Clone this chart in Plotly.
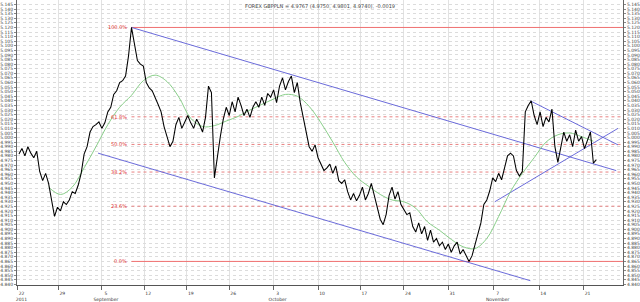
import plotly.graph_objects as go

# price series (bar index = position in list)
price = [4.982, 4.988, 4.980, 4.990, 4.983, 4.978, 4.985, 4.963, 4.953, 4.961,
         4.950, 4.932, 4.914, 4.924, 4.920, 4.930, 4.927, 4.932, 4.941, 4.939,
         4.948, 4.961, 4.982, 4.990, 5.006, 5.012, 5.014, 5.017, 5.010, 5.016,
         5.028, 5.033, 5.047, 5.051, 5.060, 5.062, 5.067, 5.089, 5.120, 5.102,
         5.084, 5.080, 5.078, 5.060, 5.054, 5.051, 5.044, 5.036, 5.028, 5.012,
         5.001, 4.990, 4.996, 5.014, 5.022, 5.010, 5.017, 5.024, 5.016, 5.010,
         5.020, 5.014, 5.006, 5.022, 5.056, 5.049, 4.956, 4.980, 5.001, 5.020,
         5.033, 5.024, 5.039, 5.028, 5.044, 5.035, 5.024, 5.031, 5.022, 5.033,
         5.039, 5.033, 5.044, 5.035, 5.048, 5.044, 5.052, 5.038, 5.056, 5.065,
         5.052, 5.061, 5.067, 5.049, 5.060, 5.038, 5.022, 5.006, 4.990, 4.985,
         4.992, 4.978, 4.971, 4.964, 4.967, 4.971, 4.961, 4.969, 4.953, 4.950,
         4.954, 4.941, 4.932, 4.939, 4.931, 4.937, 4.946, 4.932, 4.939, 4.950,
         4.937, 4.924, 4.911, 4.905, 4.916, 4.937, 4.946, 4.933, 4.941, 4.927,
         4.922, 4.916, 4.918, 4.903, 4.897, 4.907, 4.895, 4.903, 4.888, 4.899,
         4.886, 4.890, 4.882, 4.886, 4.878, 4.884, 4.875, 4.882, 4.886, 4.873,
         4.878, 4.871, 4.865, 4.871, 4.882, 4.895, 4.907, 4.927, 4.932, 4.942,
         4.956, 4.952, 4.961, 4.954, 4.967, 4.980, 4.983, 4.980, 4.964, 4.958,
         4.963, 5.028, 5.035, 5.040, 5.024, 5.014, 5.028, 5.012, 5.022, 5.017,
         5.031, 4.990, 4.973, 4.990, 5.006, 4.996, 5.003, 4.990, 5.008, 4.996,
         5.001, 4.988, 4.996, 5.006, 4.972, 4.976]
bars = list(range(len(price)))

# moving average (green), sampled every 4 bars
ma_bars = list(range(10, 195, 4))
ma_vals = [4.946, 4.938, 4.946, 4.967, 4.990, 5.014, 5.033, 5.046, 5.062, 5.068,
           5.061, 5.044, 5.021, 5.012, 5.013, 5.018, 5.023, 5.030, 5.036, 5.042,
           5.047, 5.045, 5.034, 5.016, 4.995, 4.973, 4.957, 4.947, 4.938, 4.932,
           4.930, 4.923, 4.908, 4.899, 4.889, 4.881, 4.879, 4.890, 4.914, 4.941,
           4.961, 4.978, 4.995, 5.003, 5.005, 5.001, 4.996]

# trend lines (bar, price) endpoints
chan_upper_x = [38, 201.7];   chan_upper_y = [5.120, 4.964]
chan_lower_x = [26.7, 172.7]; chan_lower_y = [4.983, 4.844]
tri_upper_x = [172.7, 202.3]; tri_upper_y = [5.040, 4.992]
tri_lower_x = [160.7, 202.3]; tri_lower_y = [4.930, 5.010]

fib_ratios = [1.0, 0.618, 0.5, 0.382, 0.236, 0.0]
fib_labels = ["100.0%", "61.8%", "50.0%", "38.2%", "23.6%", "0.0%"]

tick_bars = [-0.5, 13.3, 28, 42.3, 56.7, 71, 86, 101, 115.3, 130, 145, 160.3, 175.7, 190.7]
tick_days = ["22", "29", "5", "12", "19", "26", "3", "10", "17", "24", "31", "7", "14", "21"]
tick_months = ["2011", "", "September", "", "", "", "October", "", "", "", "", "November", "", ""]

title_text = "FOREX GBPPLN = 4.9767 (4.9750, 4.9801, 4.9740), -0.0019"

XR = [-0.667, 204]
YR = [4.8393, 5.1499]

fig = go.Figure()

hi = max(price); lo = min(price)
hi_bar = price.index(hi)
for r, lab in zip(fib_ratios, fib_labels):
    lv = lo + r * (hi - lo)
    solid = r in (0.0, 1.0)
    fig.add_trace(go.Scatter(x=[hi_bar, XR[1]], y=[lv, lv], mode="lines",
                             line=dict(color="#f07070" if solid else "#e88080",
                                       width=1, dash=None if solid else "dot"),
                             hoverinfo="skip", showlegend=False))
    fig.add_annotation(x=hi_bar, y=lv, text=lab, showarrow=False, xanchor="right",
                       xshift=-2, font=dict(size=5, color="#e03030", family="DejaVu Sans"))

for xs, ys in [(chan_upper_x, chan_upper_y), (chan_lower_x, chan_lower_y),
               (tri_upper_x, tri_upper_y), (tri_lower_x, tri_lower_y)]:
    fig.add_trace(go.Scatter(x=xs, y=ys, mode="lines",
                             line=dict(color="#5a5ad6", width=0.9),
                             hoverinfo="skip", showlegend=False))

fig.add_trace(go.Scatter(x=ma_bars, y=ma_vals, mode="lines",
                         line=dict(color="#7cc87c", width=0.9, shape="spline"),
                         showlegend=False))
fig.add_trace(go.Scatter(x=bars, y=price, mode="lines",
                         line=dict(color="#000000", width=1.05), showlegend=False))
fig.add_trace(go.Scatter(x=[bars[0]], y=[price[0]], yaxis="y2", mode="markers",
                         marker=dict(opacity=0), hoverinfo="skip", showlegend=False))

ticktext = [d + "<br>" + m for d, m in zip(tick_days, tick_months)]

fig.add_annotation(x=0.5, y=1, xref="paper", yref="paper", yanchor="top", yshift=-1,
                   text=title_text, showarrow=False,
                   font=dict(size=5, color="#444", family="DejaVu Sans"))

yax = dict(range=YR, dtick=0.005, tick0=4.84, tickformat=".3f",
           showgrid=True, gridcolor="#dcdcdc", griddash="dot", gridwidth=0.5,
           tickfont=dict(size=4.5, color="#444", family="DejaVu Sans"),
           showline=True, linecolor="#666", linewidth=1, ticks="outside", ticklen=2,
           tickcolor="#888", zeroline=False, fixedrange=True)

fig.update_layout(
    width=640, height=302,
    margin=dict(l=13, r=13, t=0, b=10),
    paper_bgcolor="white", plot_bgcolor="white",
    xaxis=dict(range=XR, tickmode="array", tickvals=tick_bars, ticktext=ticktext,
               showgrid=True, gridcolor="#e2e2e2", gridwidth=1,
               tickfont=dict(size=4.5, color="#333", family="DejaVu Sans"),
               ticklabelshift=4, ticks="outside", ticklen=4, tickcolor="#666",
               showline=True, linecolor="#555", linewidth=1, zeroline=False),
    yaxis=dict(side="left", **yax),
    yaxis2=dict(side="right", overlaying="y", **yax),
)

fig.write_html("out.html")
